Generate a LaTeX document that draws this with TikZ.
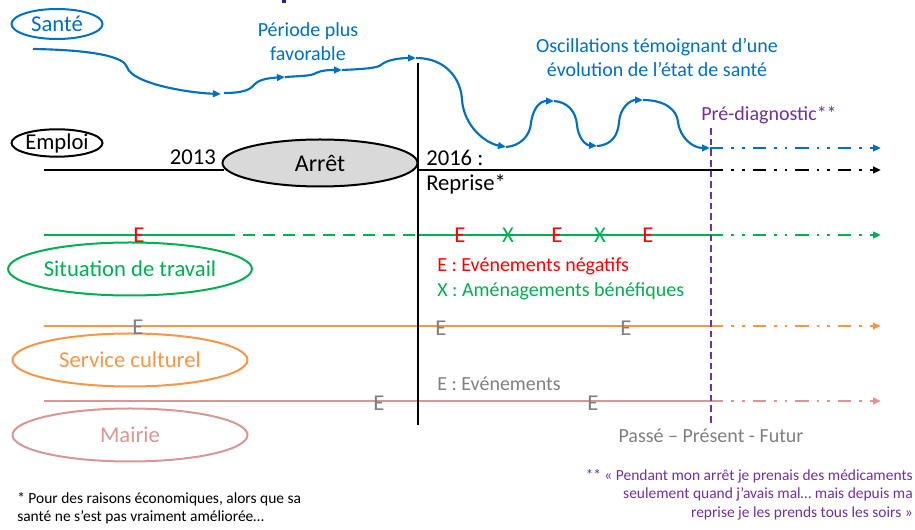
\documentclass[tikz,border=0pt]{standalone}
\usepackage{fontspec}
\setmainfont{Carlito}
\usetikzlibrary{shapes.geometric,arrows.meta}
\definecolor{cblue}{HTML}{0070C0}
\definecolor{cgreen}{HTML}{00B050}
\definecolor{cred}{HTML}{FF0000}
\definecolor{corange}{HTML}{F79646}
\definecolor{cpink}{HTML}{D99694}
\definecolor{cpurple}{HTML}{7030A0}
\definecolor{cgray}{HTML}{7F7F7F}
\definecolor{cfill}{HTML}{D9D9D9}
\definecolor{ctitle}{HTML}{1F1FA0}
\begin{document}
\begin{tikzpicture}[x=0.75pt,y=-0.75pt,
  lab/.style={ellipse,draw,line width=1.5pt,inner sep=0pt,font=\fontsize{17}{20}\selectfont},
  bigtxt/.style={inner sep=0pt,font=\fontsize{17}{20}\selectfont},
  midtxt/.style={inner sep=0pt,font=\fontsize{15}{18}\selectfont},
  evmark/.style={inner sep=0pt,font=\fontsize{17}{20}\selectfont},
  tip/.style={-{Triangle[length=6pt,width=5pt]}},
  seg/.style={cblue,line width=1.6pt,tip},
  future/.style={line width=1.6pt,dash pattern=on 10pt off 6pt on 2pt off 6pt on 2pt off 6pt,-{Triangle[length=6pt,width=5pt]}},
  tl/.style={line width=1.8pt}]
\useasboundingbox (0,0) rectangle (915,530);
\fill[ctitle] (282,0) rectangle (285.5,3.5);

% ---- labels (ellipses)
\node[lab,cblue,minimum width={91*0.75pt},minimum height={30*0.75pt}] (sante) at (57,24) {Santé};
\node[lab,black,minimum width={91*0.75pt},minimum height={27*0.75pt}] (emploi) at (57,143) {Emploi};
\node[lab,cgreen,minimum width={235*0.75pt},minimum height={53*0.75pt}] (travail) at (130,269) {Situation de travail};
\node[lab,corange,minimum width={235*0.75pt},minimum height={53*0.75pt}] (culture) at (130,360) {Service culturel};
\node[lab,cpink,minimum width={235*0.75pt},minimum height={53*0.75pt}] (mairie) at (130,435) {Mairie};

% ---- Santé curve
\coordinate (s0) at (33,49);
\coordinate (s1) at (221,94);
\coordinate (s1b) at (224,93);
\coordinate (s2) at (285,77);
\coordinate (s3) at (342,70);
\coordinate (s4) at (416,58);
\coordinate (s5) at (506,147);
\coordinate (s6) at (554,101);
\coordinate (s7) at (597,146);
\coordinate (s8) at (643,100);
\coordinate (s9) at (710,148);
\coordinate (s10) at (881,148);
\draw[seg] (s0) .. controls (95,50) and (124,57) .. (127,67) .. controls (132,84) and (190,93) .. (s1);
\draw[seg] (s1b) .. controls (245,93) and (251,89) .. (255,84) .. controls (260,79) and (270,78) .. (s2);
\draw[seg] (s2) .. controls (300,76) and (312,76) .. (316,73) .. controls (322,70) and (330,70) .. (s3);
\draw[seg] (s3) .. controls (365,69) and (377,68) .. (381,65) .. controls (386,60) and (400,58) .. (s4);
\draw[seg] (s4) .. controls (445,58) and (461,78) .. (462,100) .. controls (464,126) and (485,143) .. (s5);
\draw[seg] (s5) .. controls (520,146) and (530,136) .. (531,123) .. controls (533,108) and (540,101) .. (s6);
\draw[seg] (s6) .. controls (568,102) and (576,112) .. (577,125) .. controls (578,137) and (585,145) .. (s7);
\draw[seg] (s7) .. controls (612,145) and (618,135) .. (619,122) .. controls (620,108) and (630,100) .. (s8);
\draw[seg] (s8) .. controls (665,100) and (677,110) .. (678,122) .. controls (680,138) and (693,148) .. (s9);
\draw[future,cblue] (s9) -- (s10);

\node[midtxt,cblue,align=center] (periode) at (308,42) {Période plus\\favorable};
\node[midtxt,cblue,align=center] (oscill) at (657,58) {Oscillations témoignant d’une\\évolution de l’état de santé};

% ---- Emploi line
\node[ellipse,draw=black,line width=1.5pt,fill=cfill,minimum width={195*0.75pt},minimum height={47*0.75pt},inner sep=0pt,font=\fontsize{18}{21}\selectfont] (arret) at (320,163) {Arrêt};
\coordinate (e0) at (44,170);
\coordinate (e1) at (224,170);
\coordinate (e2) at (418,170);
\coordinate (e3) at (710,170);
\coordinate (e4) at (881,170);
\draw[tl] (e0) -- (e1);
\draw[tl] (e2) -- (e3);
\draw[future,black] (e3) -- (e4);
\node[bigtxt,anchor=east] (y2013) at (216,157) {2013};
\node[bigtxt,anchor=west] (y2016) at (426,158) {2016 :};
\node[bigtxt,anchor=west] (reprise) at (426,184) {Reprise*};

% ---- Situation de travail line
\coordinate (g0) at (44,235);
\coordinate (g1) at (223,235);
\coordinate (g2) at (418,235);
\coordinate (g3) at (710,235);
\coordinate (g4) at (881,235);
\draw[cgreen,line width=2pt] (g0) -- (g1);
\draw[cgreen,line width=2pt,dash pattern=on 9pt off 6pt] (g1) -- (g2);
\draw[cgreen,line width=2pt] (g2) -- (g3);
\draw[future,cgreen] (g3) -- (g4);
\node[evmark,cred] (ge1) at (139,235) {E};
\node[evmark,cred] (ge2) at (460,235) {E};
\node[evmark,cgreen] (gx1) at (508,235) {X};
\node[evmark,cred] (ge3) at (557,235) {E};
\node[evmark,cgreen] (gx2) at (600,235) {X};
\node[evmark,cred] (ge4) at (648,235) {E};
\node[midtxt,cred,anchor=west] (legE) at (437,266) {E : Evénements négatifs};
\node[midtxt,cgreen,anchor=west] (legX) at (437,291) {X : Aménagements bénéfiques};

% ---- Service culturel line
\coordinate (o0) at (44,326);
\coordinate (o1) at (710,326);
\coordinate (o2) at (881,326);
\draw[corange,line width=2pt] (o0) -- (o1);
\draw[future,corange] (o1) -- (o2);
\node[evmark,cgray] (oe1) at (138,327) {E};
\node[evmark,cgray] (oe2) at (441,328) {E};
\node[evmark,cgray] (oe3) at (626,328) {E};
\node[midtxt,cgray,anchor=west] (legG) at (437,384) {E : Evénements};

% ---- Mairie line
\coordinate (m0) at (44,401);
\coordinate (m1) at (710,401);
\coordinate (m2) at (881,401);
\draw[cpink,line width=2pt] (m0) -- (m1);
\draw[future,cpink] (m1) -- (m2);
\node[evmark,cgray] (me1) at (379,403) {E};
\node[evmark,cgray] (me2) at (593,403) {E};

% ---- vertical lines
\coordinate (v0) at (418,63);
\coordinate (v1) at (418,425);
\draw[tl] (v0) -- (v1);
\coordinate (p0) at (711,128);
\coordinate (p1) at (711,425);
\draw[cpurple,line width=1.6pt,dash pattern=on 5pt off 3pt] (p0) -- (p1);
\node[midtxt,cpurple] (prediag) at (769,115) {Pré-diagnostic**};
\node[midtxt,cgray] (temps) at (711,436) {Passé – Présent - Futur};

% ---- footnotes
\node[inner sep=0pt,anchor=north west,align=left,font=\fontsize{11.6}{13.8}\selectfont] (note1) at (17,492) {* Pour des raisons économiques, alors que sa\\santé ne s’est pas vraiment améliorée…};
\node[inner sep=0pt,anchor=north east,align=right,cpurple,font=\fontsize{11.6}{13.8}\selectfont] (note2) at (913,469) {** « Pendant mon arrêt je prenais des médicaments\\seulement quand j’avais mal… mais depuis ma\\reprise je les prends tous les soirs »};
\end{tikzpicture}
\end{document}
